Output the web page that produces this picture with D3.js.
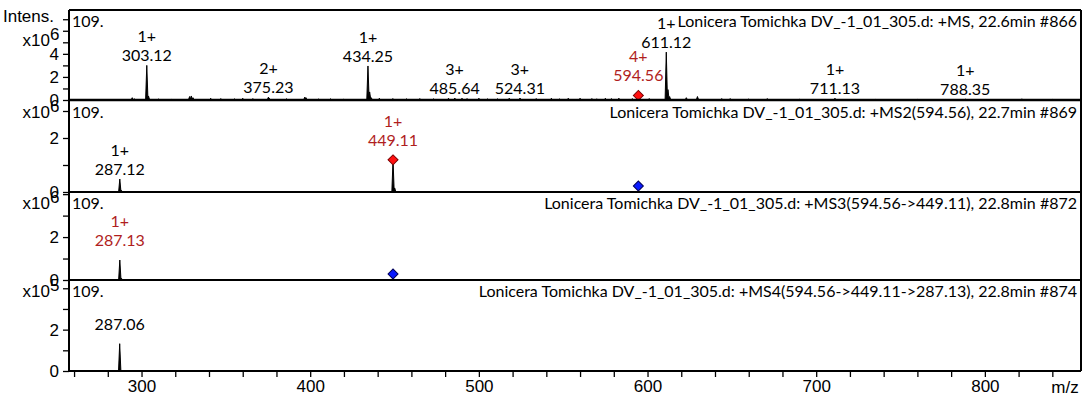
<!DOCTYPE html>
<html>
<head>
<meta charset="utf-8">
<script src="https://cdn.jsdelivr.net/npm/d3@7"></script>
<style>
  body { margin: 0; background: #fff; }
  svg { display: block; }
  .lbl { font-family: Lato, "Open Sans", sans-serif; font-size: 16px; }
  .tick text { font-family: "Liberation Sans", Arial, sans-serif; font-size: 17px; fill: #000; }
  .narrow { font-family: "Liberation Sans Narrow", "Arial Narrow", "Liberation Sans", sans-serif; font-size: 17px; }
</style>
</head>
<body>
<svg id="chart" width="1083" height="399"></svg>
<script>
// ---- data ----
const mzRange = [257, 857];
const mzTicks = d3.range(260, 841, 20);

const panelTitles = [
  'Lonicera Tomichka DV_-1_01_305.d: +MS, 22.6min #866',
  'Lonicera Tomichka DV_-1_01_305.d: +MS2(594.56), 22.7min #869',
  'Lonicera Tomichka DV_-1_01_305.d: +MS3(594.56->449.11), 22.8min #872',
  'Lonicera Tomichka DV_-1_01_305.d: +MS4(594.56->449.11->287.13), 22.8min #874'
];
const panelExponent = [6, 6, 6, 5];
const panelMax = [7.8, 3.37, 4.1, 4.4];   // in units of 10^exponent

// [m/z, intensity in units of 10^exponent]
const ms1Peaks = [
  [294.5, 0.2], [296, 0.1], [303.12, 3.0], [304.12, 0.35], [310, 0.08], [318, 0.06],
  [328.5, 0.3], [329.5, 0.35], [330.5, 0.2], [341, 0.15], [347, 0.12], [355, 0.1],
  [360, 0.15], [366, 0.12], [375.23, 0.25], [375.73, 0.15], [386, 0.1], [396.8, 0.25],
  [397.5, 0.2], [405, 0.08], [412, 0.1], [420, 0.08], [434.25, 2.95], [435.25, 0.7],
  [436.2, 0.2], [441, 0.15], [449, 0.12], [457, 0.1], [465, 0.12], [473, 0.1],
  [482, 0.15], [485.64, 0.15], [485.97, 0.1], [490, 0.15], [493, 0.12], [500, 0.15],
  [505, 0.1], [511, 0.1], [518, 0.15], [524.31, 0.15], [524.64, 0.12], [534, 0.12],
  [543, 0.15], [548, 0.1], [553, 0.15], [560, 0.15], [567, 0.12], [570, 0.1],
  [575, 0.15], [578.6, 0.12], [583, 0.15], [591, 0.12], [594.56, 0.4], [594.81, 0.3],
  [595.06, 0.2], [601, 0.12], [611.12, 4.15], [612.12, 0.9], [613.1, 0.3], [623, 0.2],
  [629.6, 0.3], [644, 0.12], [649, 0.12], [660, 0.08], [671, 0.12], [690, 0.06],
  [711.13, 0.15], [735, 0.05], [760, 0.05], [788.35, 0.08], [822, 0.1], [840, 0.05]
];
const ms2Peaks = [[287.12, 0.48], [288.1, 0.06], [449.11, 1.19], [450.1, 0.15]];
const ms3Peaks = [[287.13, 0.93], [288.1, 0.08]];
const ms4Peaks = [[287.06, 1.32]];

// [label, charge, precursor?]
const ms1Labels = [
  ['303.12', '1+', false], ['375.23', '2+', false], ['434.25', '1+', false],
  ['485.64', '3+', false], ['524.31', '3+', false], ['594.56', '4+', true],
  ['611.12', '1+', false], ['711.13', '1+', false], ['788.35', '1+', false]
];
const ms2Labels = [['287.12', '1+', false], ['449.11', '1+', true]];
const ms3Labels = [['287.13', '1+', true]];
const ms4Labels = [['287.06', '', false]];

const redMarkers = [[594.56], [449.11], [], []];
const blueMarkers = [[], [594.56], [449.11], []];

const allPeaks = [ms1Peaks, ms2Peaks, ms3Peaks, ms4Peaks];
const allLabels = [ms1Labels, ms2Labels, ms3Labels, ms4Labels];

// ---- layout ----
const left = 69, right = 1081;
const panelTop = [10, 101, 192, 280];
const panelBase = [100, 192, 280, 371];
const red = '#b01e1e';

const svg = d3.select('#chart');
const x = d3.scaleLinear().domain(mzRange).range([left, right]);

allPeaks.forEach((peaks, i) => {
  const y = d3.scaleLinear().domain([0, panelMax[i]]).range([panelBase[i], panelTop[i]]);
  const g = svg.append('g').attr('class', 'panel');

  // y axis
  const yAxis = d3.axisLeft(y)
    .tickValues(d3.range(0, Math.floor(panelMax[i]) + 1))
    .tickFormat(d => (d % 2 === 0 && d < panelMax[i] * 0.75) ? d : '')
    .tickSize(6)
    .tickPadding(4);
  const ya = g.append('g').attr('transform', `translate(${left},0)`).call(yAxis);
  ya.select('.domain').remove();
  ya.selectAll('.tick line').attr('stroke', '#000').attr('stroke-width', 1.3);

  // exponent label
  const expBase = i === 0 ? 46 : panelTop[i] + 17;
  g.append('text').attr('x', 50).attr('y', expBase).attr('text-anchor', 'end')
    .style('font-family', '"Liberation Sans", Arial, sans-serif').style('font-size', '17px')
    .text('x10');
  g.append('text').attr('x', 50).attr('y', expBase - 6)
    .style('font-family', '"Liberation Sans", Arial, sans-serif').style('font-size', '17px')
    .text(panelExponent[i]);

  // peaks
  const line = d3.line().x(d => x(d[0])).y(d => y(d[1]));
  g.selectAll('path.peak').data(peaks).enter().append('path')
    .attr('class', 'peak')
    .attr('d', p => line([[p[0] - 0.7, 0], [p[0], p[1]], [p[0] + 0.7, 0]]))
    .attr('fill', '#000').attr('stroke', '#000').attr('stroke-width', 1);

  // peak labels
  const heightAt = mz => {
    let best = peaks[0];
    peaks.forEach(p => { if (Math.abs(p[0] - mz) < Math.abs(best[0] - mz)) best = p; });
    return best[1];
  };
  allLabels[i].forEach(([txt, charge, prec]) => {
    const mz = +txt;
    const lift = (prec || !charge) ? 14 : 4;
    const yb = y(heightAt(mz)) - lift;
    const col = prec ? red : '#000';
    g.append('text').attr('class', 'lbl').attr('x', x(mz)).attr('y', yb)
      .attr('text-anchor', 'middle').attr('fill', col).text(txt);
    if (charge) {
      g.append('text').attr('class', 'lbl').attr('x', x(mz)).attr('y', yb - 19)
        .attr('text-anchor', 'middle').attr('fill', col).text(charge);
    }
  });

  // precursor markers
  const diamond = d3.symbol().type(d3.symbolSquare).size(50);
  redMarkers[i].forEach(mz => {
    g.append('path').attr('d', diamond)
      .attr('transform', `translate(${x(mz)},${y(heightAt(mz))}) rotate(45)`)
      .attr('fill', '#ff1010').attr('stroke', '#7a0000').attr('stroke-width', 1);
  });
  blueMarkers[i].forEach(mz => {
    g.append('path').attr('d', diamond)
      .attr('transform', `translate(${x(mz)},${panelBase[i] - 6}) rotate(45)`)
      .attr('fill', '#0a1aff').attr('stroke', '#00005a').attr('stroke-width', 1);
  });

  // panel texts
  g.append('text').attr('class', 'lbl').attr('x', 72).attr('y', panelTop[i] + 17).text('109.');
  g.append('text').attr('class', 'lbl').attr('x', 1077).attr('y', panelTop[i] + 17)
    .attr('text-anchor', 'end').text(panelTitles[i]);

  // panel frame lines
  g.append('line').attr('x1', left).attr('x2', right)
    .attr('y1', panelBase[i]).attr('y2', panelBase[i])
    .attr('stroke', '#000').attr('stroke-width', i === 0 ? 2.5 : 2);
});

// outer frame
svg.append('line').attr('x1', left).attr('x2', right).attr('y1', 10).attr('y2', 10)
  .attr('stroke', '#000').attr('stroke-width', 2);
svg.append('line').attr('x1', left).attr('x2', left).attr('y1', 10).attr('y2', 371)
  .attr('stroke', '#000').attr('stroke-width', 2);
svg.append('line').attr('x1', right).attr('x2', right).attr('y1', 10).attr('y2', 371)
  .attr('stroke', '#000').attr('stroke-width', 2);

// x axis
const xAxis = d3.axisBottom(x).tickValues(mzTicks)
  .tickFormat(d => d % 100 === 0 ? d : '').tickSize(6).tickPadding(3);
const xa = svg.append('g').attr('transform', 'translate(0,371)').call(xAxis);
xa.select('.domain').remove();
xa.selectAll('.tick line').attr('stroke', '#000').attr('stroke-width', 1.3);

svg.append('text').attr('class', 'narrow').attr('x', 54).attr('y', 22)
  .attr('text-anchor', 'end').text('Intens.');
svg.append('text').attr('class', 'narrow').attr('x', 1065).attr('y', 393)
  .attr('text-anchor', 'middle').text('m/z');
</script>
</body>
</html>
